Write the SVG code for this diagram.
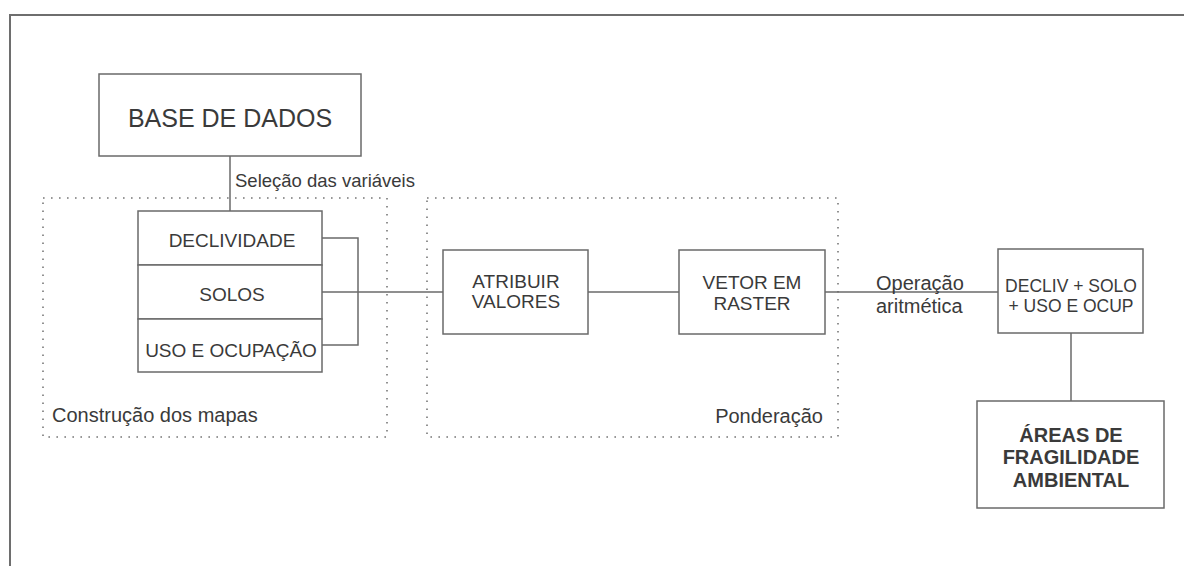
<svg xmlns="http://www.w3.org/2000/svg" width="1184" height="566" viewBox="0 0 1184 566">
<style>
.box{fill:#fff;stroke:#6a6a6a;stroke-width:1.5}
.ln{fill:none;stroke:#6a6a6a;stroke-width:1.5}
.dot{fill:none;stroke:#777;stroke-width:1.6;stroke-dasharray:1.6 6.4}
text{font-family:"Liberation Sans",Arial,sans-serif;fill:#3a3a3a}
.c{text-anchor:middle}
.b{font-weight:bold}
</style>
<rect width="1184" height="566" fill="#fff"/>
<path d="M10,566 V15 H1184" fill="none" stroke="#6e6e6e" stroke-width="2"/>
<g id="group-construcao">
<rect class="dot" x="43" y="198" width="344" height="239"/>
<text x="52" y="422" font-size="20">Construção dos mapas</text>
</g>
<g id="group-ponderacao">
<rect class="dot" x="427" y="198" width="411" height="239"/>
<text x="823" y="423" font-size="20" text-anchor="end">Ponderação</text>
</g>
<g id="connectors">
<path class="ln" d="M230,156 V211"/>
<path class="ln" d="M322,238 H358 V345 H322"/>
<path class="ln" d="M322,292 H443"/>
<path class="ln" d="M588,292 H679"/>
<path class="ln" d="M825,292 H998"/>
<path class="ln" d="M1071,333 V401"/>
<text x="235" y="187" font-size="18.5">Seleção das variáveis</text>
<text x="876" y="290" font-size="20">Operação</text>
<text x="876" y="313" font-size="20">aritmética</text>
</g>
<g id="node-base">
<rect class="box" x="99" y="74" width="262" height="82"/>
<text class="c" x="230" y="127" font-size="25">BASE DE DADOS</text>
</g>
<g id="node-declividade">
<rect class="box" x="138" y="211" width="184" height="54"/>
<text class="c" x="232" y="247" font-size="19">DECLIVIDADE</text>
</g>
<g id="node-solos">
<rect class="box" x="138" y="265" width="184" height="54"/>
<text class="c" x="232" y="301" font-size="19">SOLOS</text>
</g>
<g id="node-uso">
<rect class="box" x="138" y="319" width="184" height="53"/>
<text class="c" x="231" y="357" font-size="19">USO E OCUPAÇÃO</text>
</g>
<g id="node-atribuir">
<rect class="box" x="443" y="250" width="145" height="84"/>
<text class="c" x="516" y="288" font-size="19">ATRIBUIR</text>
<text class="c" x="516" y="308" font-size="19">VALORES</text>
</g>
<g id="node-vetor">
<rect class="box" x="679" y="250" width="146" height="84"/>
<text class="c" x="752" y="289" font-size="19">VETOR EM</text>
<text class="c" x="752" y="310" font-size="19">RASTER</text>
</g>
<g id="node-soma">
<rect class="box" x="998" y="249" width="145" height="84"/>
<text class="c" x="1071" y="292" font-size="17.5">DECLIV + SOLO</text>
<text class="c" x="1071" y="312" font-size="17.5">+ USO E OCUP</text>
</g>
<g id="node-areas">
<rect class="box" x="977" y="401" width="187" height="107"/>
<text class="c b" x="1071" y="442" font-size="20">ÁREAS DE</text>
<text class="c b" x="1071" y="464" font-size="20">FRAGILIDADE</text>
<text class="c b" x="1071" y="487" font-size="20">AMBIENTAL</text>
</g>
</svg>
